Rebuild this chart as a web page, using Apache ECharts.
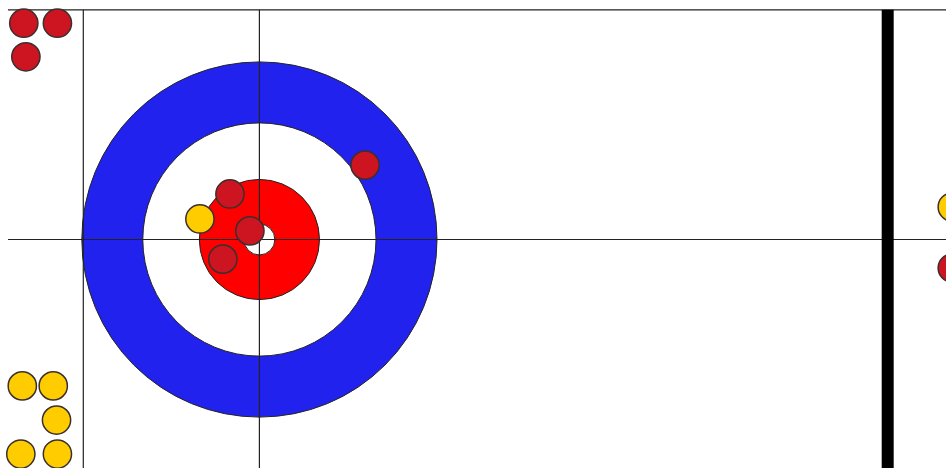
<!DOCTYPE html>
<html>
<head>
<meta charset="utf-8">
<script src="https://cdn.jsdelivr.net/npm/echarts@6/dist/echarts.min.js"></script>
<style>
	html, body { margin: 0; padding: 0; background: #fff; }
	#main { width: 946px; height: 468px; }
</style>
</head>
<body>
<div id="main"></div>
<script>
// all units in feet, tee (house centre) at 0,0
var xRange = [-8.72, 23.08],
	yRange = [-7.68, 8.05];

// house rings, outer to inner
var ringRadii = [5.97, 3.92, 2.02, 0.52];
var ringColors = ['#2222ee', '#ffffff', '#ff0000', '#ffffff'];

// sheet lines
var topLine = [[-8.45, 7.72], [23.08, 7.72]],
	teeLine = [[-8.45, 0], [23.08, 0]],
	backLine = [[-5.92, 7.72], [-5.92, -7.68]],
	centreLine = [[0, 7.72], [0, -7.68]],
	hogLine = [[21.12, 7.72], [21.12, -7.68]];

// stones
var stoneRadius = 0.475;
var redStones = [
	[-7.92, 7.27], [-6.79, 7.27], [-7.85, 6.14],
	[3.55, 2.50], [-0.99, 1.53], [-0.32, 0.29], [-1.23, -0.66],
	[23.29, -0.96]
];
var yellowStones = [
	[-7.97, -4.92], [-6.93, -4.92], [-6.82, -6.07], [-8.02, -7.21], [-6.79, -7.21],
	[-2.00, 0.69],
	[23.29, 1.09]
];

function circleRender(fill, stroke, lw) {
	return function (params, api) {
		var c = api.coord([api.value(0), api.value(1)]);
		var r = api.size([api.value(2), 0])[0];
		return {
			type: 'circle',
			shape: { cx: c[0], cy: c[1], r: r },
			style: { fill: fill, stroke: stroke, lineWidth: lw }
		};
	};
}

var series = [];

// rings
ringRadii.forEach(function (r, i) {
	series.push({
		type: 'custom',
		renderItem: circleRender(ringColors[i], '#222', 1),
		data: [[0, 0, r]],
		z: 1,
		silent: true
	});
});

// lines
function lineSeries(pts, width, color) {
	return {
		type: 'line',
		data: pts,
		symbol: 'none',
		lineStyle: { color: color, width: width },
		z: 2,
		silent: true
	};
}
series.push(lineSeries(topLine, 1.2, '#222'));
series.push(lineSeries(teeLine, 1.2, '#222'));
series.push(lineSeries(backLine, 1.2, '#222'));
series.push(lineSeries(centreLine, 1.2, '#222'));
series.push(lineSeries(hogLine, 12, '#000'));

// stones
series.push({
	type: 'custom',
	renderItem: circleRender('#cc1520', '#3a2f2f', 1.5),
	data: redStones.map(function (p) { return [p[0], p[1], stoneRadius]; }),
	z: 3
});
series.push({
	type: 'custom',
	renderItem: circleRender('#ffcc00', '#3a2f2f', 1.5),
	data: yellowStones.map(function (p) { return [p[0], p[1], stoneRadius]; }),
	z: 3
});

var chart = echarts.init(document.getElementById('main'));
chart.setOption({
	animation: false,
	grid: { left: 0, right: 0, top: 0, bottom: 0 },
	xAxis: { type: 'value', min: xRange[0], max: xRange[1], show: false },
	yAxis: { type: 'value', min: yRange[0], max: yRange[1], show: false },
	series: series
});
</script>
</body>
</html>
